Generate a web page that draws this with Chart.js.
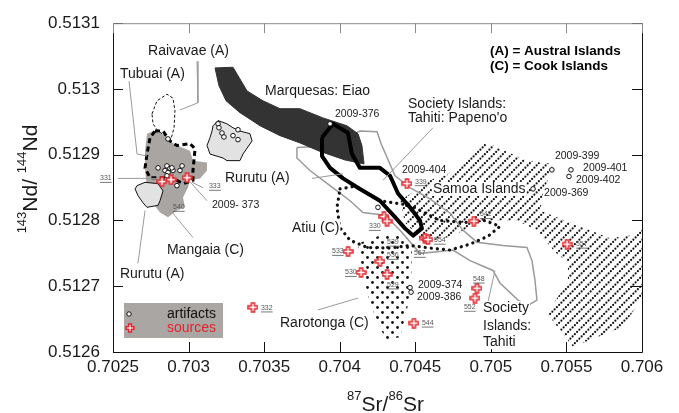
<!DOCTYPE html>
<html>
<head>
<meta charset="utf-8">
<script src="https://cdn.jsdelivr.net/npm/chart.js@4.4.1/dist/chart.umd.min.js"></script>
<style>
  html, body { margin: 0; padding: 0; background: #fff; }
  #wrap { width: 679px; height: 413px; }
</style>
</head>
<body>
<div id="wrap"><canvas id="isoChart" width="679" height="413"></canvas></div>
<script>
// ---- axes ----
const xTicks = [0.7025, 0.703, 0.7035, 0.704, 0.7045, 0.705, 0.7055, 0.706];
const xTickLabels = ['0.7025', '0.703', '0.7035', '0.704', '0.7045', '0.705', '0.7055', '0.706'];
const yTicks = [0.5126, 0.5127, 0.5128, 0.5129, 0.513, 0.5131];
const yTickLabels = ['0.5126', '0.5127', '0.5128', '0.5129', '0.513', '0.5131'];

// ---- source fields (87Sr/86Sr, 143Nd/144Nd) ----
const marquesasEiao = [[0.703175,0.513032],[0.703294,0.513033],[0.703387,0.512997],[0.703492,0.512982],[0.703605,0.512970],[0.703737,0.512970],[0.703889,0.512956],[0.704048,0.512944],[0.704121,0.512932],[0.704147,0.512914],[0.704161,0.512886],[0.704035,0.512892],[0.703870,0.512905],[0.703737,0.512918],[0.703605,0.512929],[0.703473,0.512944],[0.703340,0.512964],[0.703248,0.512982],[0.703201,0.513005]];
const tahitiPapenoo = [[0.703883,0.512926],[0.703956,0.512947],[0.704055,0.512933],[0.704081,0.512901],[0.704134,0.512880],[0.704266,0.512880],[0.704333,0.512868],[0.704386,0.512841],[0.704465,0.512820],[0.704531,0.512800],[0.704544,0.512788],[0.704485,0.512777],[0.704432,0.512788],[0.704366,0.512805],[0.704266,0.512830],[0.704134,0.512848],[0.704022,0.512864],[0.703936,0.512880],[0.703883,0.512898]];
const tahiti = [[0.703717,0.512911],[0.703823,0.512912],[0.703916,0.512909],[0.703969,0.512918],[0.704048,0.512926],[0.704134,0.512936],[0.704247,0.512935],[0.704273,0.512917],[0.704366,0.512868],[0.704465,0.512850],[0.704597,0.512833],[0.704730,0.512811],[0.704816,0.512785],[0.704908,0.512767],[0.705080,0.512762],[0.705239,0.512759],[0.705272,0.512739],[0.705292,0.512709],[0.705305,0.512679],[0.705246,0.512671],[0.705180,0.512679],[0.705060,0.512705],[0.705014,0.512724],[0.704862,0.512739],[0.704749,0.512755],[0.704630,0.512752],[0.704531,0.512750],[0.704399,0.512785],[0.704300,0.512808],[0.704154,0.512812],[0.704068,0.512830],[0.703936,0.512853],[0.703803,0.512876],[0.703717,0.512895]];
const samoa = [[0.704399,0.512830],[0.704597,0.512861],[0.704730,0.512873],[0.704948,0.512917],[0.705014,0.512914],[0.705239,0.512891],[0.705411,0.512886],[0.705371,0.512858],[0.705325,0.512815],[0.705543,0.512795],[0.705656,0.512785],[0.705788,0.512773],[0.705921,0.512777],[0.706000,0.512788],[0.706000,0.512683],[0.705874,0.512638],[0.705543,0.512608],[0.705371,0.512659],[0.705504,0.512705],[0.705510,0.512736],[0.705424,0.512752],[0.705305,0.512785],[0.705173,0.512800],[0.704948,0.512800],[0.704796,0.512782],[0.704663,0.512770],[0.704531,0.512773],[0.704432,0.512797]];
const atiu = [[0.704002,0.512848],[0.704101,0.512852],[0.704266,0.512830],[0.704465,0.512823],[0.704663,0.512800],[0.704829,0.512797],[0.704961,0.512800],[0.705060,0.512791],[0.704981,0.512776],[0.704862,0.512764],[0.704730,0.512755],[0.704597,0.512758],[0.704465,0.512762],[0.704333,0.512758],[0.704181,0.512759],[0.704068,0.512770],[0.704002,0.512789],[0.703982,0.512820]];
const rarotonga = [[0.704121,0.512765],[0.704266,0.512777],[0.704432,0.512777],[0.704478,0.512755],[0.704472,0.512702],[0.704445,0.512664],[0.704399,0.512623],[0.704313,0.512618],[0.704253,0.512641],[0.704187,0.512686],[0.704147,0.512724]];
const tubuai = [[0.702758,0.512962],[0.702791,0.512982],[0.702857,0.512992],[0.702897,0.512986],[0.702910,0.512967],[0.702904,0.512941],[0.702884,0.512924],[0.702844,0.512929],[0.702798,0.512936],[0.702765,0.512947]];
const raivavae = [[0.702778,0.512936],[0.702831,0.512936],[0.702877,0.512921],[0.702923,0.512914],[0.703009,0.512917],[0.703043,0.512909],[0.703029,0.512876],[0.703029,0.512861],[0.702963,0.512856],[0.702897,0.512864],[0.702811,0.512865],[0.702745,0.512865],[0.702712,0.512880],[0.702725,0.512901],[0.702745,0.512926]];
const australCook = [[0.702725,0.512932],[0.702765,0.512936],[0.702824,0.512932],[0.702877,0.512921],[0.702923,0.512914],[0.703009,0.512906],[0.703029,0.512891],[0.703122,0.512888],[0.703122,0.512876],[0.703076,0.512864],[0.703009,0.512861],[0.702996,0.512850],[0.702963,0.512835],[0.702976,0.512820],[0.702923,0.512815],[0.702864,0.512805],[0.702811,0.512812],[0.702765,0.512826],[0.702725,0.512850],[0.702712,0.512876],[0.702712,0.512906]];
const rurutu = [[0.703155,0.512936],[0.703142,0.512926],[0.703122,0.512914],[0.703142,0.512901],[0.703228,0.512895],[0.703254,0.512891],[0.703340,0.512891],[0.703360,0.512901],[0.703420,0.512921],[0.703406,0.512932],[0.703340,0.512936],[0.703294,0.512941],[0.703254,0.512947],[0.703195,0.512952],[0.703162,0.512944]];
const mangaia = [[0.702659,0.512853],[0.702712,0.512858],[0.702798,0.512856],[0.702831,0.512845],[0.702811,0.512830],[0.702798,0.512823],[0.702725,0.512820],[0.702698,0.512827],[0.702665,0.512838],[0.702646,0.512848]];

// ---- samples ----
const artifacts = [[0.702798,0.512880],[0.702857,0.512883],[0.702877,0.512879],[0.702844,0.512876],[0.702864,0.512873],[0.702897,0.512876],[0.702943,0.512876],[0.702957,0.512883],[0.702857,0.512868],[0.702923,0.512853],[0.702864,0.512924],[0.702890,0.512880],
  [0.703195,0.512947],[0.703201,0.512941],[0.703221,0.512933],[0.703234,0.512927],[0.703294,0.512929],[0.703327,0.512938],[0.703327,0.512923],
  [0.703936,0.512947],[0.704253,0.512820],[0.704465,0.512698],[0.704472,0.512691],[0.705404,0.512877],[0.705530,0.512877],[0.705517,0.512867],[0.705279,0.512848]];
const sources = [[0.702824,0.512859],[0.702884,0.512862],[0.702990,0.512865],[0.704445,0.512856],[0.704293,0.512806],[0.704313,0.512799],[0.704564,0.512773],[0.704584,0.512771],[0.704888,0.512799],[0.705504,0.512764],[0.704055,0.512753],[0.704266,0.512738],[0.704141,0.512721],[0.704313,0.512718],[0.704491,0.512644],[0.704908,0.512697],[0.704895,0.512682],[0.703426,0.512668]];

// ---- leader lines ----
const leaders = [
  [[0.703056,0.513042],[0.703062,0.512979],[0.702943,0.512968]],
  [[0.702606,0.513012],[0.702659,0.512901],[0.702725,0.512898]],
  [[0.702533,0.512864],[0.702798,0.512864]],
  [[0.703023,0.512858],[0.703095,0.512850]],
  [[0.703009,0.512859],[0.703122,0.512830]],
  [[0.702864,0.512820],[0.703029,0.512774]],
  [[0.702712,0.512815],[0.702665,0.512735]],
  [[0.704617,0.512941],[0.704286,0.512861]],
  [[0.703817,0.512864],[0.704022,0.512871]],
  [[0.703856,0.512664],[0.704121,0.512682]],
  [[0.705027,0.512724],[0.704981,0.512676]]
];

// ---- annotations (text, x, y) ----
const regionNames = [
  ['Raivavae (A)', 0.702732, 0.513058], ['Tubuai (A)', 0.702546, 0.513023],
  ['Marquesas: Eiao', 0.703506, 0.512997], ['Society Islands:', 0.704452, 0.512977],
  ["Tahiti: Papeno'o", 0.704452, 0.512955], ['Samoa Islands', 0.704617, 0.512848],
  ['Rurutu (A)', 0.703241, 0.512865], ['Atiu (C)', 0.703684, 0.512789],
  ['Mangaia (C)', 0.702857, 0.512755], ['Rurutu (A)', 0.702546, 0.512718],
  ['Rarotonga (C)', 0.703605, 0.512644], ['Society', 0.704948, 0.512667],
  ['Islands:', 0.704948, 0.512639], ['Tahiti', 0.704948, 0.512615]
];
const sampleRuns = [
  ['2009-376', 0.703969, 0.512962], ['2009-404', 0.704412, 0.512876],
  ['2009-399', 0.705424, 0.512898], ['2009-401', 0.705610, 0.512879],
  ['2009-402', 0.705563, 0.512862], ['2009-369', 0.705352, 0.512841],
  ['2009- 373', 0.703155, 0.512823], ['2009-374', 0.704518, 0.512702],
  ['2009-386', 0.704511, 0.512683]
];
const sampleIds = [
  ['331', 0.702414, 0.512864], ['333', 0.703135, 0.512852], ['540', 0.702897, 0.512820],
  ['332', 0.703479, 0.512667], ['339', 0.704498, 0.512859], ['330', 0.704194, 0.512791],
  ['554', 0.704624, 0.512770], ['542', 0.704928, 0.512809], ['557', 0.705563, 0.512764],
  ['533', 0.703949, 0.512753], ['539', 0.704313, 0.512767], ['536', 0.704313, 0.512747],
  ['530', 0.704035, 0.512721], ['529', 0.704313, 0.512702], ['567', 0.704491, 0.512750],
  ['544', 0.704544, 0.512644], ['548', 0.704882, 0.512711], ['552', 0.704822, 0.512668]
];
const islandKey = [
  ['(A) = Austral Islands', 0.704994, 0.513058],
  ['(C) = Cook Islands', 0.704994, 0.513035]
];
const legendItems = ['artifacts', 'sources'];

const FONT = "'Liberation Sans', Arial, Helvetica, sans-serif";

// patterns and symbols
function hatchPattern() {
  const c = document.createElement('canvas');
  c.width = 9; c.height = 9;
  const g = c.getContext('2d');
  g.fillStyle = '#111';
  [[1.125, 7.875], [3.375, 5.625], [5.625, 3.375], [7.875, 1.125]].forEach(([a, b]) => {
    g.beginPath(); g.arc(a, b, 1.05, 0, Math.PI * 2); g.fill();
  });
  return g.createPattern(c, 'repeat');
}
function stipplePattern() {
  const c = document.createElement('canvas');
  c.width = 10; c.height = 10;
  const g = c.getContext('2d');
  g.fillStyle = '#111';
  [[2.5, 2.5], [7.5, 7.5]].forEach(([a, b]) => {
    g.beginPath(); g.arc(a, b, 1.4, 0, Math.PI * 2); g.fill();
  });
  return g.createPattern(c, 'repeat');
}
function crossPath(g, ox, oy, s) {
  const a = s * 0.33, b = s * 0.67;
  const p = [[a,0],[b,0],[b,a],[s,a],[s,b],[b,b],[b,s],[a,s],[a,b],[0,b],[0,a],[a,a]];
  g.beginPath();
  p.forEach(([u, v], i) => i ? g.lineTo(ox + u, oy + v) : g.moveTo(ox + u, oy + v));
  g.closePath();
}
function crossImage() {
  const c = document.createElement('canvas');
  c.width = 11; c.height = 11;
  const g = c.getContext('2d');
  crossPath(g, 1, 1, 9);
  g.fillStyle = '#fff'; g.fill();
  g.strokeStyle = '#e3242b'; g.lineWidth = 1.5; g.stroke();
  return c;
}

const pts = arr => arr.map(([x, y]) => ({x, y}));
const ring = arr => pts(arr.concat([arr[0]]));

function area(data, opts) {
  return Object.assign({
    data: ring(data), showLine: true, pointRadius: 0, tension: 0,
    borderWidth: 1, borderColor: 'rgba(0,0,0,0)', backgroundColor: 'rgba(0,0,0,0)', fill: false
  }, opts);
}

const datasets = [
  area(samoa, {fill: 'shape', backgroundColor: hatchPattern()}),
  area(tahiti, {borderColor: '#9a9a9a', borderWidth: 1.5}),
  area(rarotonga, {fill: 'shape', backgroundColor: stipplePattern()}),
  area(atiu, {borderColor: '#111', borderWidth: 3.2, borderDash: [0.1, 6], borderCapStyle: 'round'}),
  area(marquesasEiao, {fill: 'shape', backgroundColor: '#333', borderColor: '#333'}),
  area(tahitiPapenoo, {borderColor: '#000', borderWidth: 4, borderJoinStyle: 'round'}),
  area(australCook, {fill: 'shape', backgroundColor: '#a9a5a2', borderWidth: 0}),
  area(rurutu, {fill: 'shape', backgroundColor: '#e2e2e2', borderColor: '#111', borderWidth: 1}),
  area(mangaia, {fill: 'shape', backgroundColor: '#e2e2e2', borderColor: '#111', borderWidth: 1}),
  area(tubuai, {borderColor: '#111', borderWidth: 1, borderDash: [3, 2]}),
  area(raivavae, {borderColor: '#000', borderWidth: 3, borderDash: [5, 3.5]}),
  ...leaders.map(l => ({data: pts(l), showLine: true, pointRadius: 0, borderColor: '#9a9a9a', borderWidth: 1, fill: false})),
  {data: pts(artifacts), showLine: false, pointStyle: 'circle', pointRadius: 2.3,
   pointBackgroundColor: '#fff', pointBorderColor: '#111', pointBorderWidth: 1},
  {data: pts(sources), showLine: false, pointStyle: crossImage(), pointRadius: 5}
];
datasets.forEach((d, i) => { d.order = datasets.length - i; });

const frame = {
  id: 'frame',
  afterDatasetsDraw(chart) {
    const {ctx, chartArea: a, scales: {x, y}} = chart;
    ctx.save();
    ctx.lineWidth = 1;
    ctx.strokeStyle = '#111';
    ctx.beginPath();
    ctx.moveTo(a.left + 0.5, a.top); ctx.lineTo(a.left + 0.5, a.bottom + 0.5);
    ctx.lineTo(a.right + 0.5, a.bottom + 0.5); ctx.lineTo(a.right + 0.5, a.top);
    xTicks.forEach(v => {
      const p = Math.round(x.getPixelForValue(v)) + 0.5;
      ctx.moveTo(p, a.bottom); ctx.lineTo(p, a.bottom - 10);
    });
    yTicks.forEach(v => {
      const p = Math.round(y.getPixelForValue(v)) + 0.5;
      ctx.moveTo(a.left, p); ctx.lineTo(a.left + 10, p);
      ctx.moveTo(a.right, p); ctx.lineTo(a.right - 10, p);
    });
    ctx.stroke();
    ctx.strokeStyle = '#8a8a8a';
    ctx.beginPath();
    ctx.moveTo(a.left, a.top + 0.5); ctx.lineTo(a.right + 1, a.top + 0.5);
    xTicks.forEach(v => {
      const p = Math.round(x.getPixelForValue(v)) + 0.5;
      ctx.moveTo(p, a.top); ctx.lineTo(p, a.top + 10);
    });
    ctx.stroke();
    ctx.restore();
  }
};

const annotate = {
  id: 'annotate',
  afterDatasetsDraw(chart) {
    const {ctx, chartArea: a, scales: {x, y}} = chart;
    ctx.save();
    ctx.textBaseline = 'middle';
    ctx.textAlign = 'left';
    const put = (list, size, color, opts) => list.forEach(([t, vx, vy]) => {
      const px = x.getPixelForValue(vx), py = y.getPixelForValue(vy);
      ctx.font = (opts.bold ? 'bold ' : '') + size + 'px ' + FONT;
      const w = ctx.measureText(t).width;
      if (opts.bg) { ctx.fillStyle = '#fff'; ctx.fillRect(px - 1, py - size / 2, w + 2, size); }
      ctx.fillStyle = color;
      ctx.fillText(t, px, py);
      if (opts.underline) {
        ctx.strokeStyle = color; ctx.lineWidth = 0.8;
        ctx.beginPath(); ctx.moveTo(px, py + size / 2 + 0.5); ctx.lineTo(px + w, py + size / 2 + 0.5); ctx.stroke();
      }
    });
    put(regionNames, 14, '#1a1a1a', {bg: true});
    put(sampleRuns, 10.5, '#1a1a1a', {bg: true});
    put(sampleIds, 7, '#555', {underline: true});
    put(islandKey, 13.5, '#000', {bold: true});

    // legend box
    const lx = a.left + 11, ly = a.bottom - 49;
    ctx.fillStyle = '#aaa6a3';
    ctx.fillRect(lx, ly, 99, 35);
    ctx.font = '14px ' + FONT;
    ctx.fillStyle = '#111';
    ctx.fillText(legendItems[0], lx + 43, ly + 11);
    ctx.fillStyle = '#e3242b';
    ctx.fillText(legendItems[1], lx + 43, ly + 25);
    ctx.beginPath(); ctx.arc(lx + 5, ly + 11, 2.2, 0, Math.PI * 2);
    ctx.fillStyle = '#fff'; ctx.fill(); ctx.strokeStyle = '#111'; ctx.lineWidth = 1; ctx.stroke();
    crossPath(ctx, lx + 2, ly + 21, 8);
    ctx.fillStyle = '#fff'; ctx.fill(); ctx.strokeStyle = '#e3242b'; ctx.lineWidth = 1.5; ctx.stroke();
    ctx.restore();
  }
};

const titles = {
  id: 'titles',
  afterDraw(chart) {
    const {ctx, chartArea: a} = chart;
    const parts = (pieces) => pieces.map(([t, sup]) => {
      ctx.font = (sup ? 13 : 21) + 'px ' + FONT;
      return {t, sup, w: ctx.measureText(t).width};
    });
    const drawRow = (list, x0) => {
      let cx = x0;
      list.forEach(p => {
        ctx.font = (p.sup ? 13 : 21) + 'px ' + FONT;
        ctx.fillText(p.t, cx, p.sup ? -11 : 0);
        cx += p.w;
      });
    };
    ctx.save();
    ctx.fillStyle = '#1a1a1a';
    ctx.textBaseline = 'alphabetic';
    ctx.textAlign = 'left';
    const xt = parts([['87', true], ['Sr/', false], ['86', true], ['Sr', false]]);
    const xw = xt.reduce((s, p) => s + p.w, 0);
    ctx.save();
    ctx.translate((a.left + a.right) / 2 + 8, 411);
    drawRow(xt, -xw / 2);
    ctx.restore();
    const yt = parts([['143', true], ['Nd/ ', false], ['144', true], ['Nd', false]]);
    const yw = yt.reduce((s, p) => s + p.w, 0);
    ctx.save();
    ctx.translate(37, 179);
    ctx.rotate(-Math.PI / 2);
    drawRow(yt, -yw / 2);
    ctx.restore();
    ctx.restore();
  }
};

new Chart(document.getElementById('isoChart'), {
  type: 'scatter',
  data: {datasets},
  options: {
    responsive: false,
    animation: false,
    events: [],
    layout: {padding: {left: 0, top: 22, right: 37, bottom: 0}},
    plugins: {legend: {display: false}, tooltip: {enabled: false}},
    scales: {
      x: {
        type: 'linear', min: 0.7025, max: 0.706,
        afterBuildTicks: s => { s.ticks = xTicks.map(v => ({value: v})); },
        afterFit: s => { s.height = 61; },
        grid: {display: false, drawTicks: false},
        border: {display: false},
        ticks: {
          autoSkip: false, maxRotation: 0, padding: 5, color: '#1a1a1a',
          font: {family: FONT, size: 17},
          callback: (v, i) => xTickLabels[i]
        }
      },
      y: {
        type: 'linear', min: 0.5126, max: 0.5131,
        afterBuildTicks: s => { s.ticks = yTicks.map(v => ({value: v})); },
        afterFit: s => { s.width = 113; },
        grid: {display: false, drawTicks: false},
        border: {display: false},
        ticks: {
          autoSkip: false, padding: 13, color: '#1a1a1a',
          font: {family: FONT, size: 17},
          callback: (v, i) => yTickLabels[i]
        }
      }
    }
  },
  plugins: [frame, annotate, titles]
});
</script>
</body>
</html>
